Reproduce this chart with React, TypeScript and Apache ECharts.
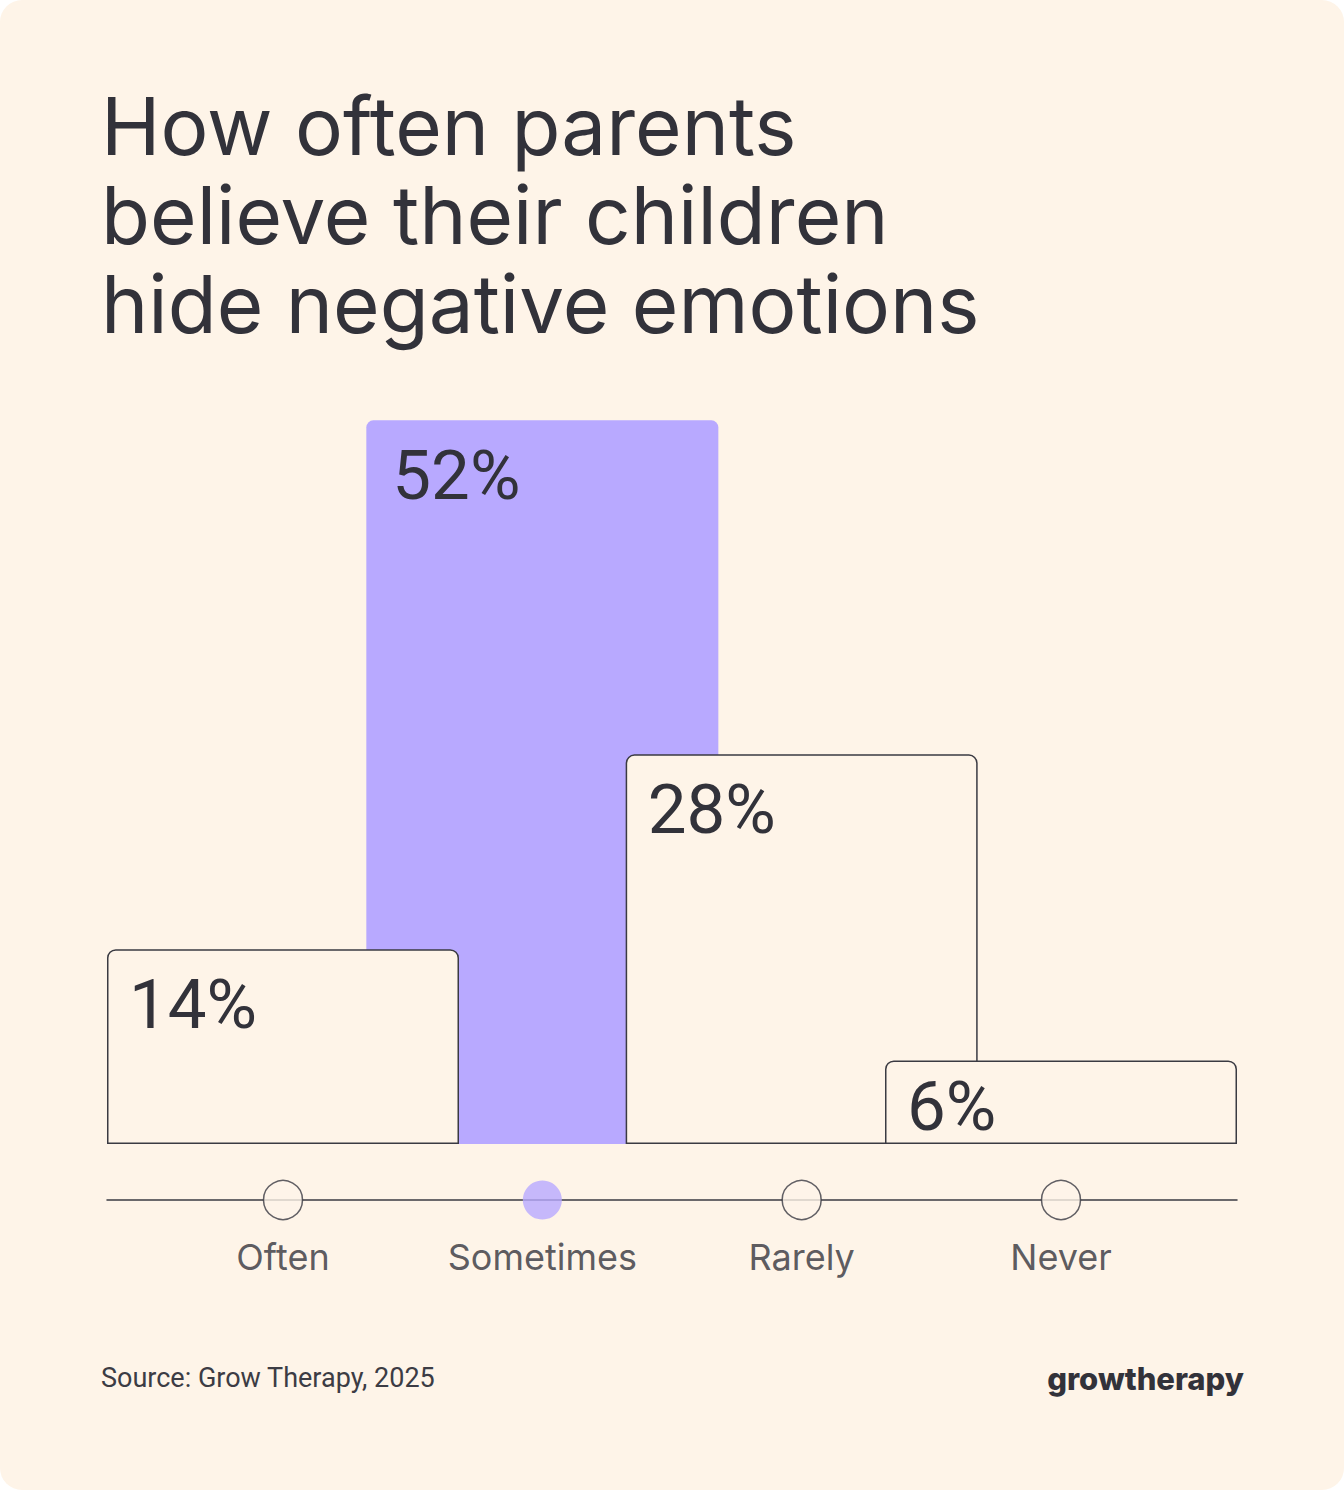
import React, { useEffect, useRef } from "react";
import * as echarts from "echarts";

const categories = ["Often", "Sometimes", "Rarely", "Never"];
const highlightValues: (number | string)[] = ["-", 52, "-", "-"];
const outlineValues: (number | string)[] = [14, "-", 28, 6];
const dotPositions = [0, 1, 2, 3];
const titleText = "How often parents\nbelieve their children\nhide negative emotions";
const sourceText = "Source: Grow Therapy, 2025";
const logoText = "growtherapy";

const BG = "#FEF4E8";
const PURPLE = "#B8A9FF";
const DARK = "#32323A";
const LINE = "#3A3A42";
const FONT = "Inter, 'Noto Sans', sans-serif";
const NUM_FONT = "Roboto, Inter, sans-serif";

export default function App() {
  const ref = useRef<HTMLDivElement>(null);
  useEffect(() => {
    if (!ref.current) return;
    const chart = echarts.init(ref.current, undefined, { renderer: "svg" });
    const halfBar = 176 / 259.33;
    const labelBase = {
      show: true,
      align: "left",
      verticalAlign: "middle",
      formatter: "{c}%",
      fontFamily: NUM_FONT,
      fontSize: 69,
      color: DARK,
    };
    const option: any = {
      animation: false,
      backgroundColor: "transparent",
      textStyle: { fontFamily: FONT },
      title: {
        text: titleText,
        left: 96,
        top: 76,
        textStyle: {
          fontFamily: FONT,
          fontSize: 80,
          fontWeight: 400,
          lineHeight: 89,
          color: DARK,
        },
      },
      graphic: [
        {
          type: "rect",
          z: -100,
          silent: true,
          shape: { x: 0, y: 0, width: 1344, height: 1490, r: 22 },
          style: { fill: BG },
        },
        {
          type: "text",
          x: 101,
          y: 1378,
          style: {
            text: sourceText,
            fontFamily: NUM_FONT,
            fontSize: 27,
            fill: "#3C3C44",
            align: "left",
            verticalAlign: "middle",
          },
        },
        {
          type: "text",
          x: 1244,
          y: 1378,
          style: {
            text: logoText,
            fontFamily: FONT,
            fontSize: 31,
            fontWeight: 800,
            fill: DARK,
            align: "right",
            verticalAlign: "middle",
          },
        },
      ],
      grid: [
        { left: 153.33, right: 153.33, top: 309, bottom: 346 },
        { left: 107, right: 107, top: 1180, height: 40 },
      ],
      xAxis: [
        {
          type: "category",
          gridIndex: 0,
          data: categories,
          axisLine: { show: false },
          axisTick: { show: false },
          axisLabel: { show: false },
        },
        {
          type: "value",
          gridIndex: 1,
          min: -halfBar,
          max: 3 + halfBar,
          axisLine: { show: true, onZero: true, lineStyle: { color: LINE, width: 1.5 } },
          axisTick: { show: false },
          axisLabel: { show: false },
          splitLine: { show: false },
        },
      ],
      yAxis: [
        { type: "value", gridIndex: 0, min: 0, max: 60, show: false },
        { type: "value", gridIndex: 1, min: -1, max: 1, show: false },
      ],
      series: [
        {
          type: "bar",
          xAxisIndex: 0,
          yAxisIndex: 0,
          data: highlightValues,
          barWidth: 352,
          barGap: "-100%",
          clip: false,
          silent: true,
          itemStyle: { color: PURPLE, borderRadius: [7, 7, 0, 0] },
          label: { ...labelBase, position: [26, 55] },
        },
        {
          type: "bar",
          xAxisIndex: 0,
          yAxisIndex: 0,
          data: outlineValues.map((v, i) => ({
            value: v,
            label: { position: i === 3 ? [22, 46] : [22, 55] },
          })),
          barWidth: 352,
          barGap: "-100%",
          clip: false,
          silent: true,
          itemStyle: {
            color: BG,
            borderColor: LINE,
            borderWidth: 1.5,
            borderRadius: [8, 8, 0, 0],
          },
          label: { ...labelBase, position: [22, 55] },
        },
        {
          type: "scatter",
          xAxisIndex: 1,
          yAxisIndex: 1,
          silent: true,
          symbolSize: 39,
          data: dotPositions.map((x, i) => ({
            name: categories[i],
            value: [x, 0],
            itemStyle:
              i === 1
                ? { color: PURPLE, borderWidth: 0 }
                : { color: BG, borderColor: LINE, borderWidth: 1.5 },
          })),
          label: {
            show: true,
            position: "bottom",
            distance: 19,
            formatter: "{b}",
            fontFamily: FONT,
            fontSize: 36,
            lineHeight: 36,
            color: DARK,
          },
        },
      ],
    };
    chart.setOption(option);
    return () => chart.dispose();
  }, []);
  return (
    <div
      ref={ref}
      style={{ position: "absolute", left: 0, top: 0, width: 1344, height: 1490, background: "#ffffff" }}
    />
  );
}
